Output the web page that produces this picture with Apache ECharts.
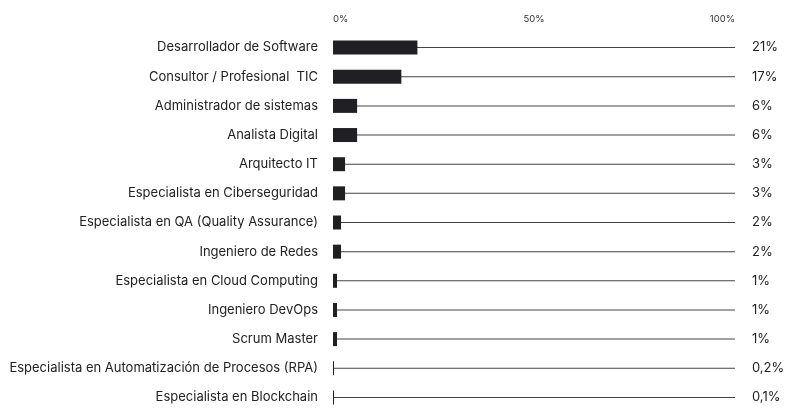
<!DOCTYPE html>
<html><head><meta charset="utf-8">
<script src="https://cdn.jsdelivr.net/npm/echarts@6/dist/echarts.min.js"></script>
<style>html,body{margin:0;padding:0;background:#fff}#c{width:785px;height:412px}</style>
</head><body><div id="c"></div>
<script>
const categories = ["Desarrollador de Software","Consultor / Profesional  TIC","Administrador de sistemas","Analista Digital","Arquitecto IT","Especialista en Ciberseguridad","Especialista en QA (Quality Assurance)","Ingeniero de Redes","Especialista en Cloud Computing","Ingeniero DevOps","Scrum Master","Especialista en Automatización de Procesos (RPA)","Especialista en Blockchain"];
const values = [21,17,6,6,3,3,2,2,1,1,1,0.2,0.1];
const fullScale = 100;
const fmt = v => String(v).replace('.', ',') + '%';
const FONT = 'Inter';
const chart = echarts.init(document.getElementById('c'));
chart.setOption({
  animation:false,
  grid:{left:333,right:50,top:33,height:389},
  xAxis:{type:'value',position:'top',min:0,max:100,interval:50,
    axisLine:{show:false},axisTick:{show:false},splitLine:{show:false},
    axisLabel:{formatter:'{value}%',color:'#333',fontSize:9.5,fontFamily:FONT,margin:9,alignMinLabel:'left',alignMaxLabel:'right'}},
  yAxis:[
    {type:'category',data:categories,inverse:true,axisLine:{show:false},axisTick:{show:false},
     axisLabel:{color:'#222',fontSize:13,fontFamily:FONT,margin:15}},
    {type:'category',data:categories,inverse:true,show:false}
  ],
  series:[
    {type:'bar',yAxisIndex:1,data:values.map(()=>fullScale),barWidth:1,z:1,
     itemStyle:{color:'#444'},silent:true,
     label:{show:true,position:'right',distance:17,color:'#222',fontSize:13,fontFamily:FONT,
       formatter:p=>fmt(values[p.dataIndex])}},
    {type:'bar',yAxisIndex:0,data:values,barWidth:14,barMinHeight:1,z:2,itemStyle:{color:'#202024'}}
  ]
});
</script></body></html>
